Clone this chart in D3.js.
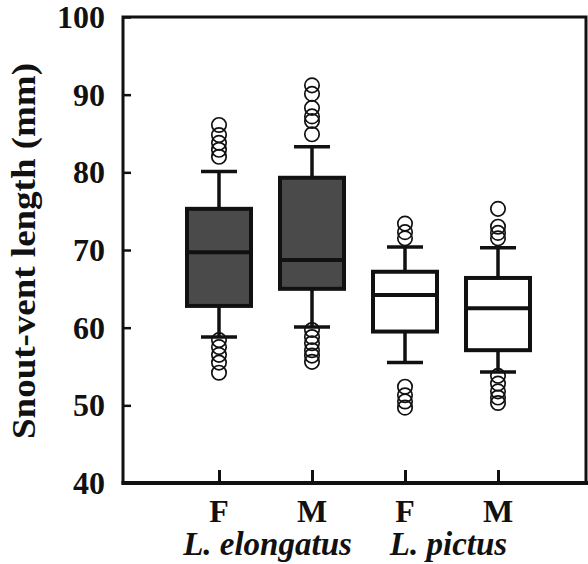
<!DOCTYPE html>
<html>
<head>
<meta charset="utf-8">
<script src="https://cdn.jsdelivr.net/npm/d3@7"></script>
<style>
  body { margin: 0; background: #fff; }
  text { font-family: "Liberation Serif", "Times New Roman", serif; font-weight: bold; }
</style>
</head>
<body>
<div id="chart"></div>
<script>
// data (mm)
var groups = ["eF", "eM", "pF", "pM"];
var sexLabels = ["F", "M", "F", "M"];
var species = ["L. elongatus", "L. pictus"];
var speciesGroups = [["eF", "eM"], ["pF", "pM"]];
var filled = [true, true, false, false];

var q1 = [62.8, 65.0, 59.5, 57.1];
var median = [69.7, 68.7, 64.2, 62.5];
var q3 = [75.3, 79.3, 67.2, 66.4];
var whiskLow = [58.8, 60.1, 55.5, 54.3];
var whiskHigh = [80.1, 83.3, 70.4, 70.3];

var outHigh = [
  [86.1, 84.8, 83.8, 82.9, 82.0],
  [91.2, 90.1, 88.3, 87.2, 86.6, 84.9],
  [73.4, 72.3, 71.5],
  [75.3, 73.0, 72.2, 71.5]
];
var outLow = [
  [58.4, 57.5, 56.5, 55.5, 54.2],
  [59.7, 58.8, 58.0, 57.1, 56.4, 55.6],
  [52.4, 51.3, 50.5, 49.7],
  [53.8, 52.8, 51.8, 51.0, 50.3]
];

var yTicks = [40, 50, 60, 70, 80, 90, 100];

function drawChart() {
  var width = 588, height = 564;
  var mLeft = 123, mTop = 17, mRight = 586, mBottom = 483;

  var svg = d3.select('#chart').append('svg')
    .attr('width', width)
    .attr('height', height);

  var y = d3.scaleLinear().domain([40, 100]).range([mBottom, mTop]);
  var x = d3.scalePoint().domain(groups).range([126, 591]).padding(1);

  // frame
  svg.append('rect')
    .attr('x', mLeft).attr('y', mTop)
    .attr('width', mRight - mLeft).attr('height', mBottom - mTop)
    .attr('fill', 'none').attr('stroke', '#111').attr('stroke-width', 3);

  // y axis, ticks pointing inward
  var yAxis = svg.append('g')
    .attr('transform', 'translate(' + mLeft + ',0)')
    .call(d3.axisRight(y).tickValues(yTicks).tickSize(8).tickFormat(''));
  yAxis.select('.domain').remove();
  yAxis.selectAll('line').attr('stroke', '#111').attr('stroke-width', 2.5);

  svg.selectAll('.ylab')
    .data(yTicks)
    .enter().append('text')
    .attr('class', 'ylab')
    .attr('x', 105)
    .attr('y', function (d) { return y(d) + 11; })
    .attr('text-anchor', 'end')
    .attr('font-size', 32)
    .attr('fill', '#111')
    .text(function (d) { return d; });

  svg.append('text')
    .attr('transform', 'translate(35,251) rotate(-90)')
    .attr('text-anchor', 'middle')
    .attr('font-size', 33)
    .attr('textLength', 376)
    .attr('lengthAdjust', 'spacingAndGlyphs')
    .attr('fill', '#111')
    .text('Snout-vent length (mm)');

  // x ticks pointing up from the bottom axis
  var xAxis = svg.append('g')
    .attr('transform', 'translate(0,' + mBottom + ')')
    .call(d3.axisTop(x).tickSize(13).tickFormat(''));
  xAxis.select('.domain').remove();
  xAxis.selectAll('line').attr('stroke', '#111').attr('stroke-width', 3);

  svg.append('line')
    .attr('x1', mLeft - 1.5).attr('x2', width)
    .attr('y1', mBottom).attr('y2', mBottom)
    .attr('stroke', '#111').attr('stroke-width', 4);

  svg.selectAll('.xlab')
    .data(groups)
    .enter().append('text')
    .attr('class', 'xlab')
    .attr('x', function (d) { return x(d); })
    .attr('y', 522)
    .attr('text-anchor', 'middle')
    .attr('font-size', 32)
    .attr('fill', '#111')
    .text(function (d, i) { return sexLabels[i]; });

  svg.selectAll('.sp')
    .data(species)
    .enter().append('text')
    .attr('class', 'sp')
    .attr('x', function (d, i) { return (x(speciesGroups[i][0]) + x(speciesGroups[i][1])) / 2 + (i == 0 ? 2 : -3); })
    .attr('y', 555)
    .attr('text-anchor', 'middle')
    .attr('font-size', 33)
    .attr('font-style', 'italic')
    .attr('fill', '#111')
    .text(function (d) { return d; });

  // boxes
  var boxW = 64, capW = 36;
  var g = svg.selectAll('.box')
    .data(groups)
    .enter().append('g')
    .attr('class', 'box');

  g.append('line')
    .attr('x1', function (d) { return x(d); })
    .attr('x2', function (d) { return x(d); })
    .attr('y1', function (d, i) { return y(whiskHigh[i]); })
    .attr('y2', function (d, i) { return y(whiskLow[i]); })
    .attr('stroke', '#111').attr('stroke-width', 3.5);

  g.selectAll('.cap')
    .data(function (d, i) { return [[d, whiskHigh[i]], [d, whiskLow[i]]]; })
    .enter().append('line')
    .attr('x1', function (d) { return x(d[0]) - capW / 2; })
    .attr('x2', function (d) { return x(d[0]) + capW / 2; })
    .attr('y1', function (d) { return y(d[1]); })
    .attr('y2', function (d) { return y(d[1]); })
    .attr('stroke', '#111').attr('stroke-width', 3.5);

  g.append('rect')
    .attr('x', function (d) { return x(d) - boxW / 2; })
    .attr('y', function (d, i) { return y(q3[i]); })
    .attr('width', boxW)
    .attr('height', function (d, i) { return y(q1[i]) - y(q3[i]); })
    .attr('fill', function (d, i) { return filled[i] ? '#4a4a4a' : '#fff'; })
    .attr('stroke', '#111').attr('stroke-width', 4);

  g.append('line')
    .attr('x1', function (d) { return x(d) - boxW / 2; })
    .attr('x2', function (d) { return x(d) + boxW / 2; })
    .attr('y1', function (d, i) { return y(median[i]); })
    .attr('y2', function (d, i) { return y(median[i]); })
    .attr('stroke', '#111').attr('stroke-width', 4);

  g.selectAll('.out')
    .data(function (d, i) {
      return outHigh[i].concat(outLow[i]).map(function (v) { return [d, v]; });
    })
    .enter().append('circle')
    .attr('cx', function (d) { return x(d[0]); })
    .attr('cy', function (d) { return y(d[1]); })
    .attr('r', 7.2)
    .attr('fill', 'none')
    .attr('stroke', '#111').attr('stroke-width', 1.7);
}

drawChart();
</script>
</body>
</html>
